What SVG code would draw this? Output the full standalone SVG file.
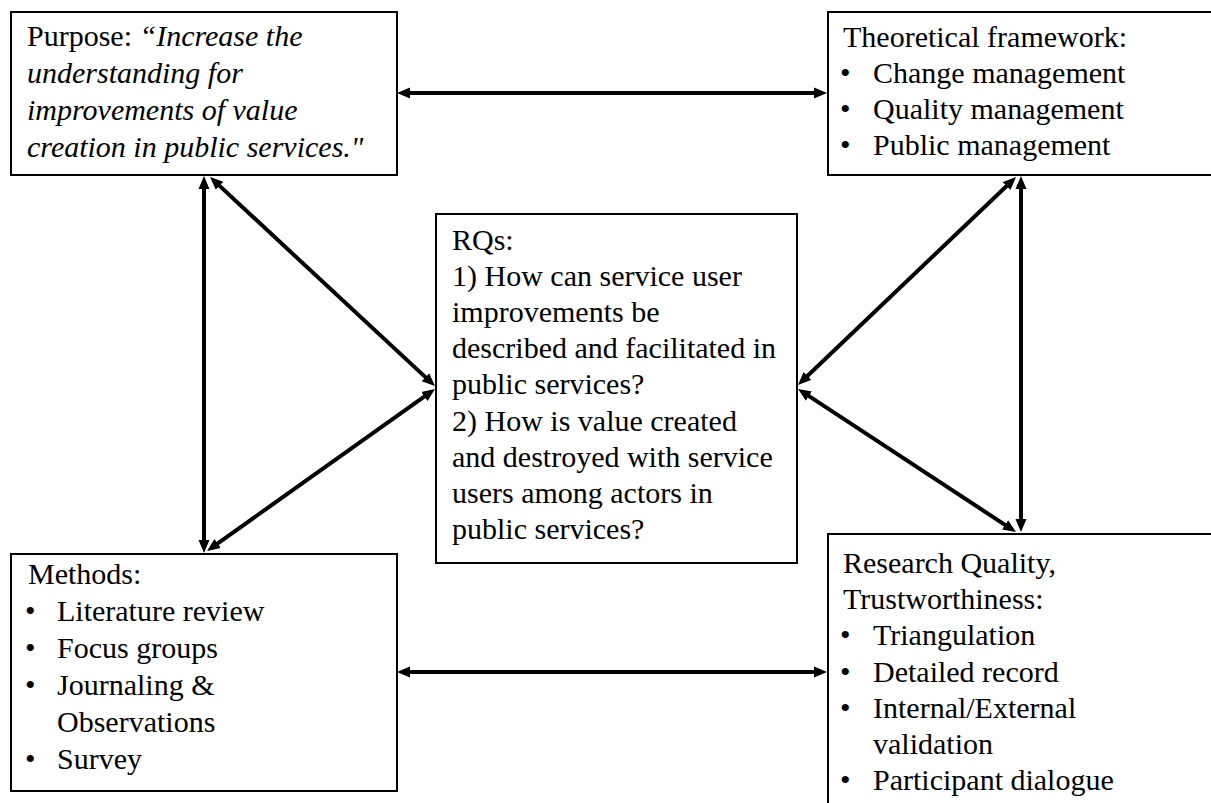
<svg xmlns="http://www.w3.org/2000/svg" width="1211" height="803" viewBox="0 0 1211 803">
<style>
.box{fill:#fff;stroke:#000;stroke-width:2}
.t{font-family:"Liberation Serif","Times New Roman",serif;font-size:30px;fill:#000}
.i{font-style:italic}
.c{stroke:#000;stroke-width:4;fill:none;marker-start:url(#ah);marker-end:url(#ah)}
</style>
<defs>
<marker id="ah" markerUnits="userSpaceOnUse" markerWidth="14" markerHeight="12" viewBox="0 0 14 12" refX="8" refY="6" orient="auto-start-reverse">
<path d="M0,0.5 L13,6 L0,11.5 z" fill="#000"/>
</marker>
</defs>
<rect width="1211" height="803" fill="#fff"/>
<g id="connectors">
<line class="c" x1="402" y1="93" x2="822" y2="93"/>
<line class="c" x1="402" y1="672" x2="822" y2="672"/>
<line class="c" x1="204" y1="181" x2="204" y2="548"/>
<line class="c" x1="213.7" y1="180.4" x2="431.3" y2="382.6"/>
<line class="c" x1="430.9" y1="391.9" x2="211.1" y2="548.1"/>
<line class="c" x1="1021" y1="181" x2="1021" y2="527"/>
<line class="c" x1="1012.4" y1="180.5" x2="801.6" y2="381.5"/>
<line class="c" x1="802.2" y1="391.7" x2="1011.8" y2="529.3"/>
</g>
<g id="purpose">
<rect class="box" x="11" y="12" width="386" height="163"/>
<text class="t" x="27" y="46">Purpose: <tspan class="i">“Increase the</tspan></text>
<text class="t i" x="27" y="83">understanding for</text>
<text class="t i" x="27" y="120">improvements of value</text>
<text class="t i" x="27" y="157">creation in public services."</text>
</g>
<g id="theory">
<rect class="box" x="828" y="12" width="390" height="163"/>
<text class="t" x="843" y="47">Theoretical framework:</text>
<text class="t" x="840" y="83">•</text><text class="t" x="873" y="83">Change management</text>
<text class="t" x="840" y="119">•</text><text class="t" x="873" y="119">Quality management</text>
<text class="t" x="840" y="155">•</text><text class="t" x="873" y="155">Public management</text>
</g>
<g id="rqs">
<rect class="box" x="436" y="214" width="361" height="349"/>
<text class="t" x="452" y="249.5">RQs:</text>
<text class="t" x="452" y="285.7">1) How can service user</text>
<text class="t" x="452" y="321.9">improvements be</text>
<text class="t" x="452" y="358.1">described and facilitated in</text>
<text class="t" x="452" y="394.3">public services?</text>
<text class="t" x="452" y="430.5">2) How is value created</text>
<text class="t" x="452" y="466.7">and destroyed with service</text>
<text class="t" x="452" y="502.9">users among actors in</text>
<text class="t" x="452" y="539.1">public services?</text>
</g>
<g id="methods">
<rect class="box" x="11" y="554" width="386" height="237"/>
<text class="t" x="28" y="584">Methods:</text>
<text class="t" x="25" y="621">•</text><text class="t" x="57" y="621">Literature review</text>
<text class="t" x="25" y="658">•</text><text class="t" x="57" y="658">Focus groups</text>
<text class="t" x="25" y="695">•</text><text class="t" x="57" y="695">Journaling &amp;</text>
<text class="t" x="57" y="732">Observations</text>
<text class="t" x="25" y="769">•</text><text class="t" x="57" y="769">Survey</text>
</g>
<g id="quality">
<rect class="box" x="828" y="534" width="390" height="280"/>
<text class="t" x="843" y="573">Research Quality,</text>
<text class="t" x="843" y="609">Trustworthiness:</text>
<text class="t" x="840" y="645">•</text><text class="t" x="873" y="645">Triangulation</text>
<text class="t" x="840" y="682">•</text><text class="t" x="873" y="682">Detailed record</text>
<text class="t" x="840" y="718">•</text><text class="t" x="873" y="718">Internal/External</text>
<text class="t" x="873" y="754">validation</text>
<text class="t" x="840" y="790">•</text><text class="t" x="873" y="790">Participant dialogue</text>
</g>
</svg>
